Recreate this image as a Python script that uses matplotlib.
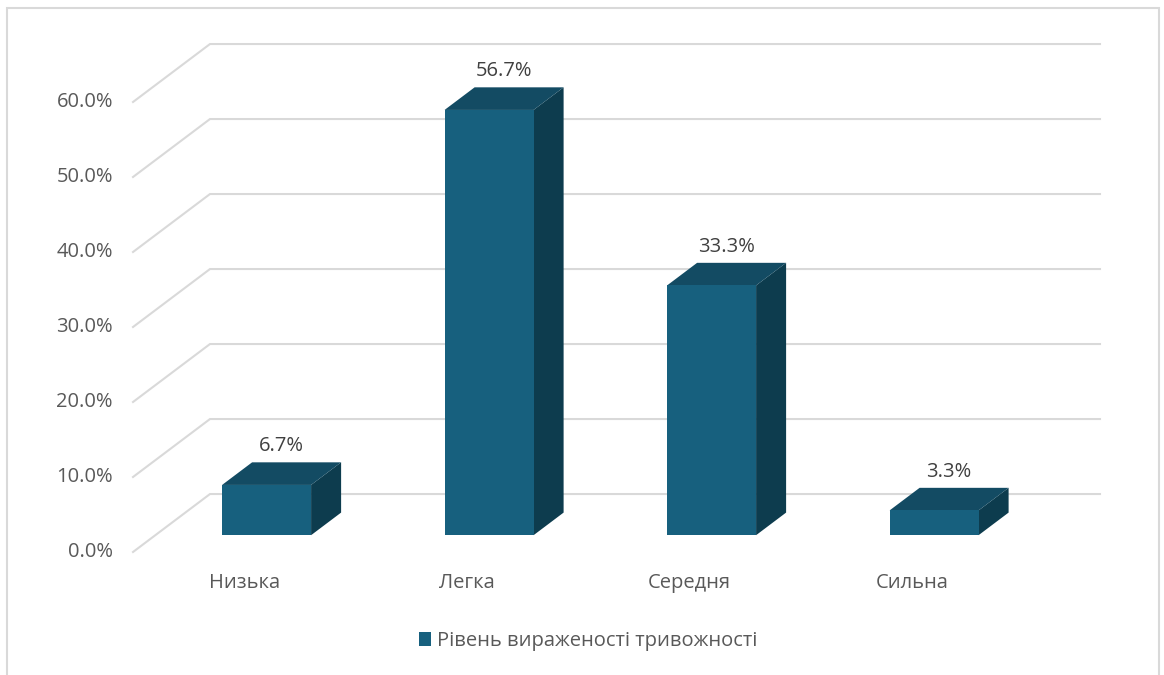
import matplotlib
matplotlib.use("Agg")
import matplotlib.pyplot as plt
from matplotlib.patches import Polygon, Rectangle, Patch

plt.rcParams['font.family'] = ['Open Sans', 'DejaVu Sans']

categories = ["Низька", "Легка", "Середня", "Сильна"]
values = [6.7, 56.7, 33.3, 3.3]
series_name = "Рівень вираженості тривожності"
y_ticks = [0, 10, 20, 30, 40, 50, 60]

front_col = "#17607E"
top_col = "#134B63"
side_col = "#0D3C4E"
grid_col = "#D9D9D9"
text_col = "#595959"
fs = 14.5

# depth of the 3d box, in data units
DX = 0.346
DY = 7.73
d0, d1 = 0.29, 0.68
hw = 0.2

fig = plt.figure(figsize=(11.64, 6.75), dpi=100)
ax = fig.add_axes([0, 0, 1, 1])
ax.set_xlim(-1.0978, 4.1337)
ax.set_ylim(-16.4, 73.6)
ax.axis("off")

# walls: diagonal on the left side + back horizontal lines
for t in y_ticks:
    ax.plot([-0.5, -0.5 + DX, 3.5 + DX], [t, t + DY, t + DY],
            color=grid_col, lw=1.5, solid_joinstyle="miter", zorder=1)
    ax.text(-0.59, t, f"{t:.1f}%", ha="right", va="center",
            fontsize=fs, color=text_col)

for i, (cat, v) in enumerate(zip(categories, values)):
    x0 = i - hw + d0 * DX
    x1 = i + hw + d0 * DX
    yb = d0 * DY
    yt = v + d0 * DY
    ox = (d1 - d0) * DX
    oy = (d1 - d0) * DY
    ax.add_patch(Polygon([(x1, yb), (x1, yt), (x1 + ox, yt + oy), (x1 + ox, yb + oy)],
                         closed=True, fc=side_col, ec="none", zorder=3))
    ax.add_patch(Polygon([(x0, yt), (x1, yt), (x1 + ox, yt + oy), (x0 + ox, yt + oy)],
                         closed=True, fc=top_col, ec="none", zorder=3))
    ax.add_patch(Rectangle((x0, yb), x1 - x0, yt - yb, fc=front_col, ec="none", zorder=4))
    ax.text(i + (d0 + d1) / 2 * DX, yt + oy + 0.8, f"{v:.1f}%", ha="center", va="bottom",
            fontsize=fs, color="#404040", zorder=5)
    ax.text(i, -4.1, cat, ha="center", va="center", fontsize=fs, color=text_col)

ax.legend(handles=[Patch(facecolor=front_col, label=series_name)],
          loc="center", bbox_to_anchor=(588 / 1164, 1 - 641 / 675),
          frameon=False, fontsize=fs, labelcolor=text_col,
          handlelength=0.6, handleheight=0.75, handletextpad=0.3)

# chart area border
fig.patches.append(Rectangle((7 / 1164, -0.05), 1152 / 1164, 1.05 - 8 / 675,
                             transform=fig.transFigure, fill=False,
                             ec=grid_col, lw=1.5))

fig.savefig("out.png", dpi=100, facecolor="white")
